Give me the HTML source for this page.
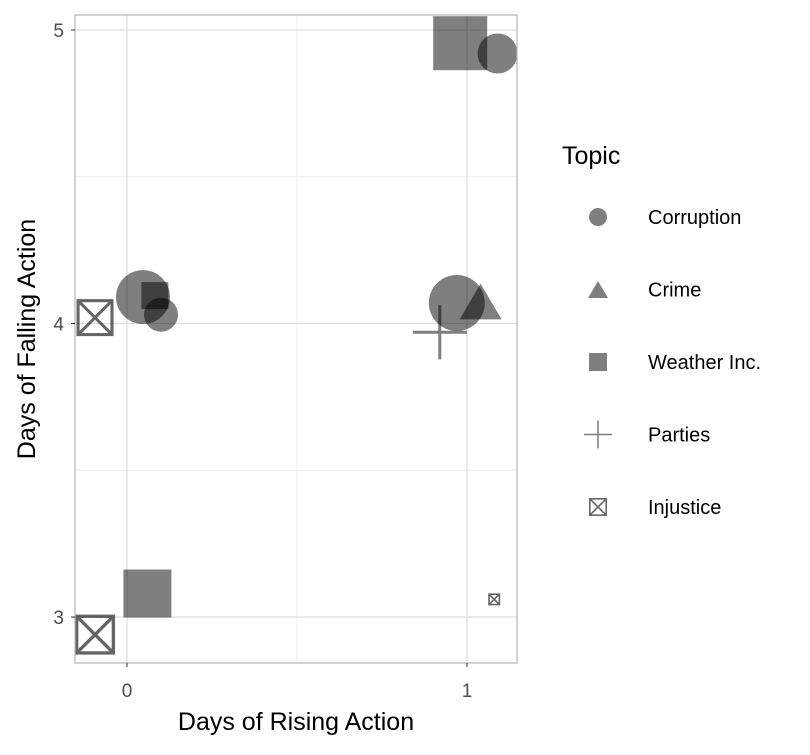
<!DOCTYPE html>
<html><head><meta charset="utf-8"><style>
body{margin:0;background:#fff;font-family:"Liberation Sans",sans-serif}
</style></head><body>
<svg width="810" height="750" xmlns="http://www.w3.org/2000/svg" font-family="Liberation Sans, sans-serif">
<g id="grid"></g>
<g id="marks"></g>
<rect x="75" y="15" width="442" height="648" fill="none" stroke="#b3b3b3" stroke-width="1.2"/>
<g id="axes" fill="#4d4d4d" font-size="19"></g>
<text x="296" y="730" text-anchor="middle" font-size="25" fill="#000">Days of Rising Action</text>
<text transform="translate(35,339) rotate(-90)" text-anchor="middle" font-size="25" fill="#000">Days of Falling Action</text>
<g>
<text x="562" y="164" font-size="25" fill="#000">Topic</text>
<g id="legend" font-size="20" fill="#000"></g>
</g>
</svg>
<script>
const xTicks=[0,1];
const yTicks=[3,4,5];
const topics=["Corruption","Crime","Weather Inc.","Parties","Injustice"];
const ptX=[0.98,1.09,0.047,0.082,0.10,-0.094,0.97,1.04,0.92,0.06,-0.094,1.08];
const ptY=[4.955,4.92,4.09,4.095,4.03,4.02,4.07,4.075,3.97,3.08,2.94,3.06];
const ptTopic=[2,0,0,2,0,4,0,1,3,2,4,4];
const ptSize=[54,40,54,27,34,37,56,42,54,48,40,12];
const NS="http://www.w3.org/2000/svg";
const xs=v=>127+v*340, ys=v=>323.5-(v-4)*293.5;
function mk(t,a,p){const e=document.createElementNS(NS,t);for(const k in a)e.setAttribute(k,a[k]);p.appendChild(e);return e;}
const grid=document.getElementById('grid');
[3.5,4.5].forEach(v=>mk('line',{x1:75,x2:517,y1:ys(v),y2:ys(v),stroke:'#ececec','stroke-width':1},grid));
mk('line',{x1:xs(0.5),x2:xs(0.5),y1:15,y2:663,stroke:'#ececec','stroke-width':1},grid);
yTicks.forEach(v=>{const l=mk('line',{x1:75,x2:517,y1:ys(v),y2:ys(v),stroke:'#dedede','stroke-width':1.3},grid);

});
xTicks.forEach(v=>{const l=mk('line',{x1:xs(v),x2:xs(v),y1:15,y2:663,stroke:'#dedede','stroke-width':1.3},grid);

});
const axes=document.getElementById('axes');
xTicks.forEach(v=>{const t=mk('text',{x:xs(v),y:697,'text-anchor':'middle'},axes);t.textContent=v;


mk('line',{x1:xs(v),x2:xs(v),y1:663,y2:667,stroke:'#333'},axes);});
yTicks.forEach(v=>{const t=mk('text',{x:64,y:ys(v)+7,'text-anchor':'end'},axes);t.textContent=v;


mk('line',{x1:71,x2:75,y1:ys(v),y2:ys(v),stroke:'#333'},axes);});
function shape(k,cx,cy,s,p,op){
 const g=mk('g',{opacity:op},p);const h=s/2;
 if(k==0)mk('circle',{cx:cx,cy:cy,r:h,fill:'#000'},g);
 else if(k==1)mk('polygon',{points:`${cx},${cy-h*0.85} ${cx+h},${cy+h*0.85} ${cx-h},${cy+h*0.85}`,fill:'#000'},g);
 else if(k==2)mk('rect',{x:cx-h,y:cy-h,width:s,height:s,fill:'#000'},g);
 else if(k==3){mk('line',{x1:cx-h,x2:cx+h,y1:cy,y2:cy,stroke:'#000','stroke-width':Math.max(1.5,s/18)},g);mk('line',{x1:cx,x2:cx,y1:cy-h,y2:cy+h,stroke:'#000','stroke-width':Math.max(1.5,s/18)},g);}
 else {const w=Math.max(1.6,s/12);mk('rect',{x:cx-h+w/2,y:cy-h+w/2,width:s-w,height:s-w,fill:'none',stroke:'#000','stroke-width':w},g);
 mk('line',{x1:cx-h+w/2,y1:cy-h+w/2,x2:cx+h-w/2,y2:cy+h-w/2,stroke:'#000','stroke-width':w},g);
 mk('line',{x1:cx+h-w/2,y1:cy-h+w/2,x2:cx-h+w/2,y2:cy+h-w/2,stroke:'#000','stroke-width':w},g);}
 return g;}
const marks=document.getElementById('marks');
ptX.forEach((x,i)=>{const g=shape(ptTopic[i],xs(x),ys(ptY[i]),ptSize[i],marks,ptTopic[i]==4?0.6:0.5);

});
const leg=document.getElementById('legend');
topics.forEach((t,i)=>{const y=217+i*72.5;
const g=shape(i,598,y,i==3?28:(i==1?20:18),leg,i==4?0.6:0.5);


const tx=mk('text',{x:648,y:y+7},leg);tx.textContent=t;

});
</script>
</body></html>
